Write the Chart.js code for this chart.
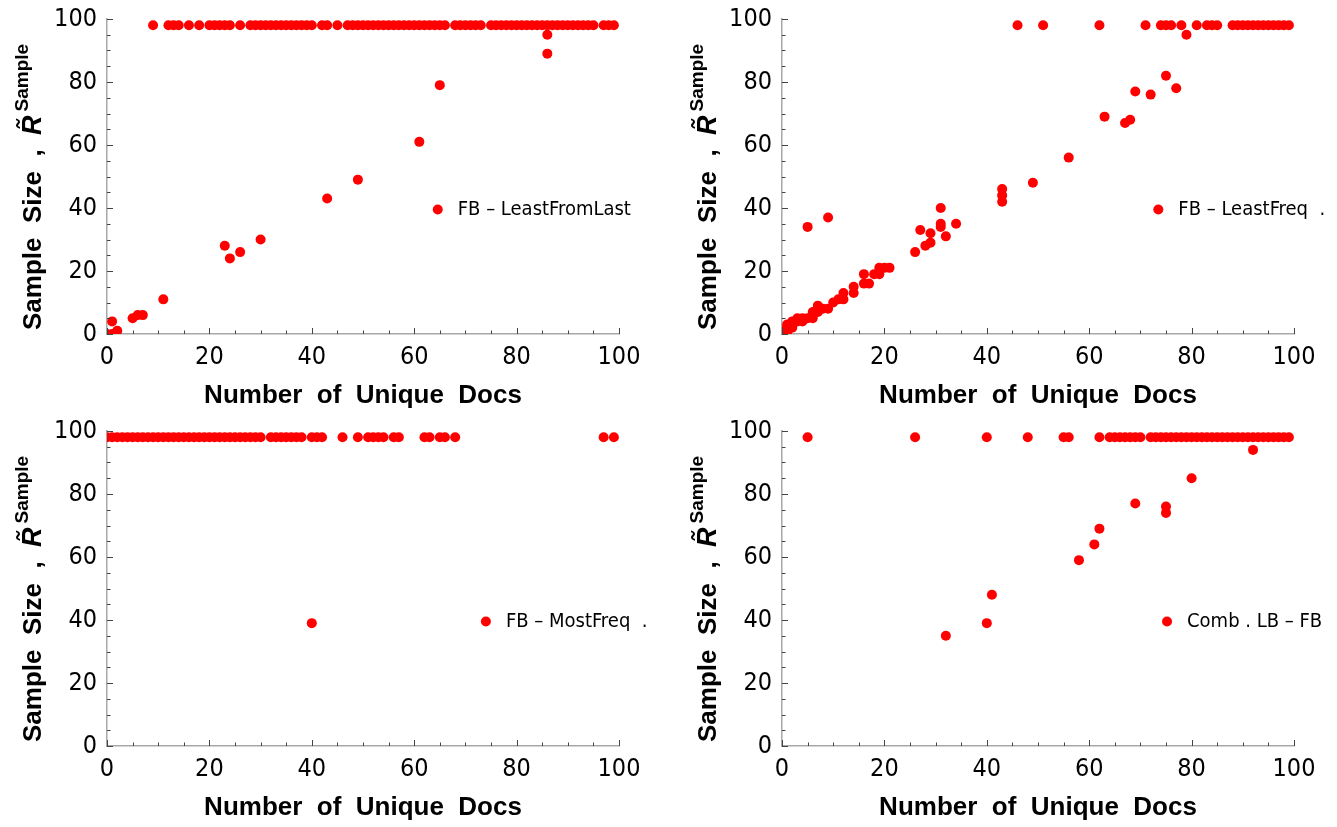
<!DOCTYPE html>
<html>
<head>
<meta charset="utf-8">
<script src="https://cdn.jsdelivr.net/npm/chart.js@4.4.1/dist/chart.umd.min.js"></script>
<style>
    html, body { margin: 0; padding: 0; background: #fff; }
    #wrap { position: relative; width: 1337px; height: 827px; }
    .panel { position: absolute; width: 662px; height: 411px; }
</style>
</head>
<body>
<div id="wrap">
    <div class="panel" style="left:0;top:0"><canvas id="leastFromLast"></canvas></div>
    <div class="panel" style="left:675px;top:0"><canvas id="leastFreq"></canvas></div>
    <div class="panel" style="left:0;top:412px"><canvas id="mostFreq"></canvas></div>
    <div class="panel" style="left:675px;top:412px"><canvas id="combLbFb"></canvas></div>
</div>
<script>
// Axis ticks shared by all four panels
const xTicks = [0, 20, 40, 60, 80, 100];
const yTicks = [0, 20, 40, 60, 80, 100];

// FB - LeastFromLast
const leastFromLastX = [0, 1, 1, 2, 5, 6, 7, 11, 23, 24, 26, 30, 43, 49, 61, 65, 86, 86,
    9, 12, 13, 14, 16, 18, 20, 21, 22, 23, 24, 26, 28, 29, 30, 31, 32, 33, 34, 35, 36, 37, 38, 39, 40,
    42, 43, 45, 47, 48, 49, 50, 51, 52, 53, 54, 55, 56, 57, 58, 59, 60, 61, 62, 63, 64, 65, 66,
    68, 69, 70, 71, 72, 73, 75, 76, 77, 78, 79, 80, 81, 82, 83, 84, 85, 86, 87, 88, 89, 90, 91, 92,
    93, 94, 95, 97, 98, 99];
const leastFromLastY = [0, 0, 4, 1, 5, 6, 6, 11, 28, 24, 26, 30, 43, 49, 61, 79, 95, 89,
    98, 98, 98, 98, 98, 98, 98, 98, 98, 98, 98, 98, 98, 98, 98, 98, 98, 98, 98, 98, 98, 98, 98, 98, 98,
    98, 98, 98, 98, 98, 98, 98, 98, 98, 98, 98, 98, 98, 98, 98, 98, 98, 98, 98, 98, 98, 98, 98,
    98, 98, 98, 98, 98, 98, 98, 98, 98, 98, 98, 98, 98, 98, 98, 98, 98, 98, 98, 98, 98, 98, 98, 98,
    98, 98, 98, 98, 98, 98];

// FB - LeastFreq.
const leastFreqX = [0, 0, 1, 1, 1, 2, 2, 2, 3, 3, 4, 4, 5, 6, 6, 6, 7, 7, 8, 9, 10, 11, 12, 12, 14, 14,
    16, 16, 17, 18, 19, 19, 20, 21, 5, 9, 26, 27, 28, 29, 29, 31, 31, 31, 32, 34, 43, 43, 43, 49, 56,
    63, 67, 68, 69, 72, 75, 77, 79,
    46, 51, 62, 71, 74, 75, 76, 78, 81, 83, 84, 85, 88, 89, 90, 91, 92, 93, 94, 95, 96, 97, 98, 99];
const leastFreqY = [0, 1, 0, 2, 3, 2, 3, 4, 4, 5, 4, 5, 5, 5, 6, 7, 7, 9, 8, 8, 10, 11, 11, 13, 13, 15,
    16, 19, 16, 19, 19, 21, 21, 21, 34, 37, 26, 33, 28, 32, 29, 40, 35, 34, 31, 35, 46, 44, 42, 48, 56,
    69, 67, 68, 77, 76, 82, 78, 95,
    98, 98, 98, 98, 98, 98, 98, 98, 98, 98, 98, 98, 98, 98, 98, 98, 98, 98, 98, 98, 98, 98, 98, 98];

// FB - MostFreq.
const mostFreqX = [40,
    0, 1, 2, 3, 4, 5, 6, 7, 8, 9, 10, 11, 12, 13, 14, 15, 16, 17, 18, 19, 20, 21, 22, 23, 24, 25, 26, 27,
    28, 29, 30, 32, 33, 34, 35, 36, 37, 38, 40, 41, 42, 46, 49, 51, 52, 53, 54, 56, 57, 62, 63, 65, 66,
    68, 97, 99];
const mostFreqY = [39,
    98, 98, 98, 98, 98, 98, 98, 98, 98, 98, 98, 98, 98, 98, 98, 98, 98, 98, 98, 98, 98, 98, 98, 98, 98, 98, 98, 98,
    98, 98, 98, 98, 98, 98, 98, 98, 98, 98, 98, 98, 98, 98, 98, 98, 98, 98, 98, 98, 98, 98, 98, 98, 98,
    98, 98, 98];

// Comb. LB - FB
const combX = [32, 40, 41, 58, 61, 62, 69, 75, 75, 80, 92,
    5, 26, 40, 48, 55, 56, 62, 64, 65, 66, 67, 68, 69, 70, 72, 73, 74, 75, 76, 77, 78, 79, 80, 81, 82,
    83, 84, 85, 86, 87, 88, 89, 90, 91, 92, 93, 94, 95, 96, 97, 98, 99];
const combY = [35, 39, 48, 59, 64, 69, 77, 76, 74, 85, 94,
    98, 98, 98, 98, 98, 98, 98, 98, 98, 98, 98, 98, 98, 98, 98, 98, 98, 98, 98, 98, 98, 98, 98, 98, 98,
    98, 98, 98, 98, 98, 98, 98, 98, 98, 98, 98, 98, 98, 98, 98, 98, 98];

const tickFont = { family: "'Liberation Sans Narrow', 'DejaVu Sans Condensed', sans-serif", size: 25 };
const titleFamily = "'Liberation Sans', Arial, sans-serif";

// Mathematica-style inward frame ticks, every 5 units, longer at labelled ones
const frameTicks = {
    id: 'frameTicks',
    afterDatasetsDraw(chart) {
        const { ctx, chartArea, scales: { x, y } } = chart;
        ctx.save();
        ctx.strokeStyle = '#444';
        ctx.lineWidth = 1;
        for (let v = 0; v <= 100; v += 5) {
            const len = v % 20 === 0 ? 6 : 3.5;
            const px = Math.round(x.getPixelForValue(v)) + 0.5;
            ctx.beginPath();
            ctx.moveTo(px, chartArea.bottom);
            ctx.lineTo(px, chartArea.bottom - len);
            ctx.stroke();
            const py = Math.round(y.getPixelForValue(v)) + 0.5;
            ctx.beginPath();
            ctx.moveTo(chartArea.left, py);
            ctx.lineTo(chartArea.left + len, py);
            ctx.stroke();
        }
        ctx.restore();
    }
};

// Rotated y title with the R-tilde and its superscript
const yTitle = {
    id: 'yTitle',
    afterDraw(chart) {
        const { ctx, chartArea } = chart;
        ctx.save();
        ctx.fillStyle = '#000';
        ctx.translate(41, chartArea.bottom - 4);
        ctx.rotate(-Math.PI / 2);
        ctx.textBaseline = 'alphabetic';
        ctx.textAlign = 'left';
        ctx.font = 'bold 26px ' + titleFamily;
        const main = 'Sample  Size  ,  ';
        ctx.fillText(main, 0, 0);
        let pos = ctx.measureText(main).width;
        ctx.font = 'italic bold 27px ' + titleFamily;
        ctx.fillText('R\u0303', pos, 0);
        pos += ctx.measureText('R').width + 4;
        ctx.font = 'bold 19px ' + titleFamily;
        ctx.fillText('Sample', pos, -13);
        ctx.restore();
    }
};

// Legend drawn inside the plot, at the height of y = 40
const insideLegend = {
    id: 'insideLegend',
    afterDraw(chart) {
        const { ctx, chartArea, scales: { y } } = chart;
        const ds = chart.data.datasets[0];
        const fx = chart.options.plugins.insideLegend.at;
        const cx = chartArea.left + fx * (chartArea.right - chartArea.left);
        const cy = y.getPixelForValue(39.5);
        ctx.save();
        ctx.fillStyle = ds.backgroundColor;
        ctx.beginPath();
        ctx.arc(cx, cy, 5, 0, Math.PI * 2);
        ctx.fill();
        ctx.fillStyle = '#000';
        ctx.font = "20px 'Liberation Sans Narrow', 'DejaVu Sans Condensed', sans-serif";
        ctx.textBaseline = 'middle';
        ctx.fillText(ds.label, cx + 20, cy);
        ctx.restore();
    }
};

function makePanel(canvasId, label, xs, ys, legendAt) {
    const points = xs.map((x, i) => ({ x: x, y: ys[i] }));
    new Chart(document.getElementById(canvasId), {
        type: 'scatter',
        data: {
            datasets: [{
                label: label,
                data: points,
                backgroundColor: '#ff0000',
                borderWidth: 0,
                pointRadius: 5,
                pointHoverRadius: 5,
                clip: 0
            }]
        },
        options: {
            responsive: true,
            maintainAspectRatio: false,
            animation: false,
            events: [],
            layout: { padding: { top: 19, right: 43, bottom: 0, left: 0 } },
            plugins: {
                legend: { display: false },
                tooltip: { enabled: false },
                insideLegend: { at: legendAt }
            },
            scales: {
                x: {
                    type: 'linear',
                    min: 0,
                    max: 100,
                    afterBuildTicks: (scale) => { scale.ticks = xTicks.map(v => ({ value: v })); },
                    afterFit: (scale) => { scale.height = 77; scale.paddingLeft = 0; scale.paddingRight = 0; },
                    grid: { display: false, drawTicks: false },
                    border: { display: true, color: '#a8a8a8', width: 1.5 },
                    ticks: { color: '#000', font: tickFont, padding: 8, maxRotation: 0 },
                    title: {
                        display: true,
                        text: 'Number  of  Unique  Docs',
                        color: '#000',
                        font: { family: titleFamily, size: 26, weight: 'bold', lineHeight: 1.15 },
                        padding: { top: 0, bottom: 0 }
                    }
                },
                y: {
                    type: 'linear',
                    min: 0,
                    max: 100,
                    afterBuildTicks: (scale) => { scale.ticks = yTicks.map(v => ({ value: v })); },
                    afterFit: (scale) => { scale.width = 107; scale.paddingTop = 0; scale.paddingBottom = 0; },
                    grid: { display: false, drawTicks: false },
                    border: { display: true, color: '#a8a8a8', width: 1.5 },
                    ticks: { color: '#000', font: tickFont, padding: 10 }
                }
            }
        },
        plugins: [frameTicks, yTitle, insideLegend]
    });
}

makePanel('leastFromLast', 'FB \u2013 LeastFromLast', leastFromLastX, leastFromLastY, 0.646);
makePanel('leastFreq', 'FB \u2013 LeastFreq  .', leastFreqX, leastFreqY, 0.735);
makePanel('mostFreq', 'FB \u2013 MostFreq  .', mostFreqX, mostFreqY, 0.74);
makePanel('combLbFb', 'Comb . LB \u2013 FB', combX, combY, 0.752);
</script>
</body>
</html>
